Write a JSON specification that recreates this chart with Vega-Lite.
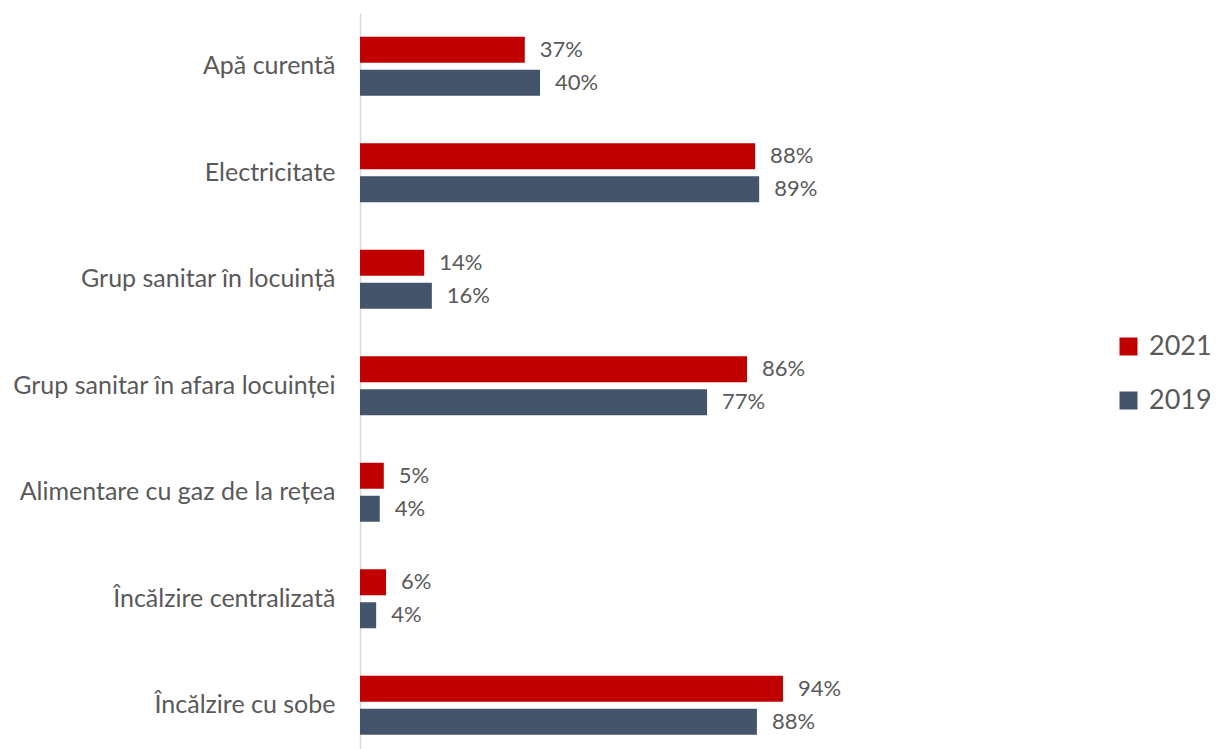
{
  "$schema": "https://vega.github.io/schema/vega-lite/v6.json",
  "autosize": {"type": "none"},
  "padding": {"left": 360, "top": 13, "right": 408, "bottom": 0},
  "width": 449,
  "height": 745.5,
  "background": "white",
  "config": {"view": {"stroke": null}, "font": "Lato"},
  "data": {
    "values": [
      {"cat": "Apă curentă", "year": "2021", "v": 0.367},
      {"cat": "Apă curentă", "year": "2019", "v": 0.401},
      {"cat": "Electricitate", "year": "2021", "v": 0.88},
      {"cat": "Electricitate", "year": "2019", "v": 0.889},
      {"cat": "Grup sanitar în locuință", "year": "2021", "v": 0.143},
      {"cat": "Grup sanitar în locuință", "year": "2019", "v": 0.16},
      {"cat": "Grup sanitar în afara locuinței", "year": "2021", "v": 0.862},
      {"cat": "Grup sanitar în afara locuinței", "year": "2019", "v": 0.773},
      {"cat": "Alimentare cu gaz de la rețea", "year": "2021", "v": 0.053},
      {"cat": "Alimentare cu gaz de la rețea", "year": "2019", "v": 0.044},
      {"cat": "Încălzire centralizată", "year": "2021", "v": 0.058},
      {"cat": "Încălzire centralizată", "year": "2019", "v": 0.036},
      {"cat": "Încălzire cu sobe", "year": "2021", "v": 0.942},
      {"cat": "Încălzire cu sobe", "year": "2019", "v": 0.884}
    ]
  },
  "encoding": {
    "y": {
      "field": "cat",
      "type": "nominal",
      "sort": null,
      "scale": {"paddingInner": 0.446, "paddingOuter": 0.223},
      "axis": {
        "title": null,
        "ticks": false,
        "domainColor": "#D9D9D9",
        "domainWidth": 1.5,
        "labelFontSize": 25,
        "labelColor": "#595959",
        "labelPadding": 25,
        "labelLimit": 400,
        "labelFont": "Lato"
      }
    },
    "yOffset": {
      "field": "year",
      "type": "nominal",
      "sort": ["2021", "2019"],
      "scale": {"paddingInner": 0.212, "paddingOuter": 0}
    },
    "x": {
      "field": "v",
      "type": "quantitative",
      "scale": {"domain": [0, 1]},
      "axis": null
    }
  },
  "layer": [
    {
      "mark": {"type": "bar"},
      "encoding": {
        "color": {
          "field": "year",
          "type": "nominal",
          "scale": {"domain": ["2021", "2019"], "range": ["#C00000", "#44546A"]},
          "legend": {
            "title": null,
            "orient": "none",
            "legendX": 755,
            "legendY": 320,
            "symbolType": "square",
            "symbolSize": 324,
            "symbolStrokeWidth": 0,
            "labelFontSize": 27,
            "labelColor": "#595959",
            "labelFont": "Lato",
            "rowPadding": 26,
            "labelOffset": 7
          }
        }
      }
    },
    {
      "mark": {"type": "text", "align": "left", "baseline": "middle", "dx": 15, "fontSize": 22, "color": "#595959", "font": "Lato"},
      "encoding": {
        "text": {"field": "v", "type": "quantitative", "format": ".0%"}
      }
    }
  ]
}
